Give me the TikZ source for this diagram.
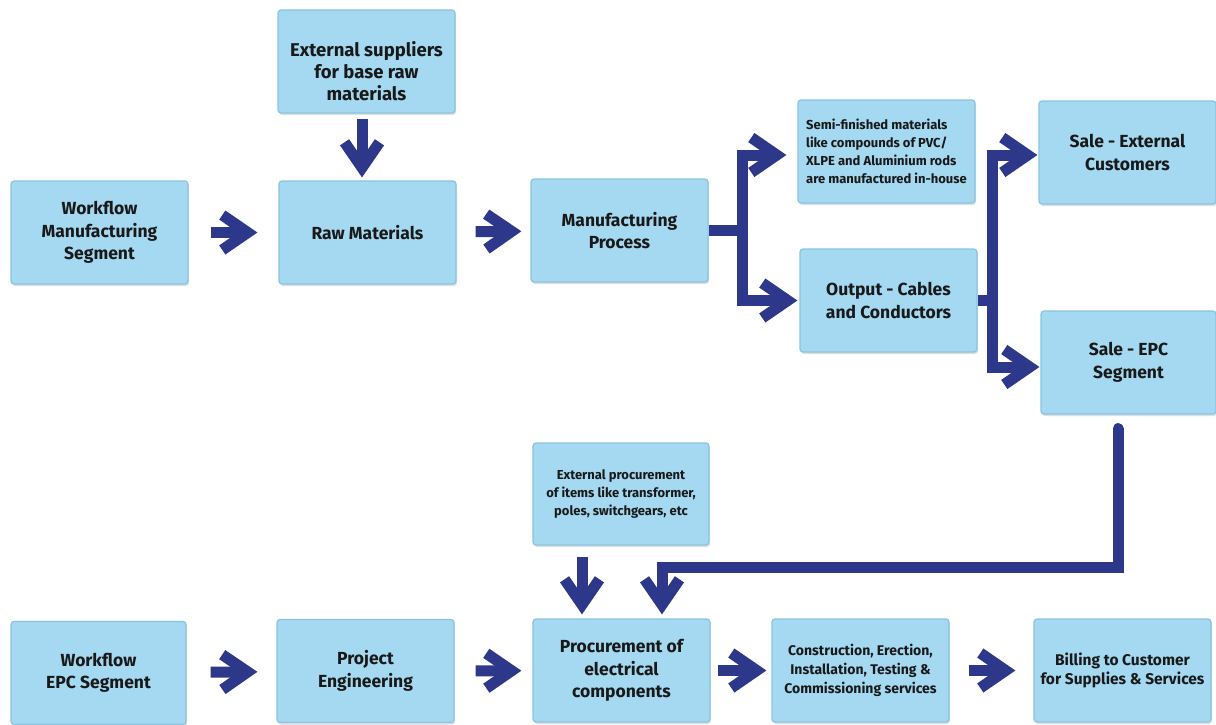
\documentclass[tikz,border=0pt]{standalone}
\usepackage{fontspec}
\setmainfont{Fira Sans}
\usetikzlibrary{shadows,arrows.meta}
\definecolor{arrowblue}{RGB}{45,56,138}
\definecolor{boxfill}{RGB}{164,217,241}
\definecolor{boxedge}{RGB}{136,196,224}
\definecolor{txt}{RGB}{25,25,25}

\pgfdeclarearrow{
  name=Chev,
  parameters={},
  setup code={
    \pgfarrowssettipend{0pt}
    \pgfarrowssetlineend{-19pt}
    \pgfarrowssetvisualbackend{-19pt}
    \pgfarrowssetbackend{-38.2pt}
    \pgfarrowshullpoint{0pt}{0pt}
    \pgfarrowshullpoint{-32pt}{22pt}
    \pgfarrowshullpoint{-38.2pt}{12.9pt}
    \pgfarrowshullpoint{-32pt}{-22pt}
    \pgfarrowshullpoint{-38.2pt}{-12.9pt}
  },
  drawing code={
    \pgfpathmoveto{\pgfqpoint{0pt}{0pt}}
    \pgfpathlineto{\pgfqpoint{-32pt}{22pt}}
    \pgfpathlineto{\pgfqpoint{-38.2pt}{12.9pt}}
    \pgfpathlineto{\pgfqpoint{-19.4pt}{0pt}}
    \pgfpathlineto{\pgfqpoint{-38.2pt}{-12.9pt}}
    \pgfpathlineto{\pgfqpoint{-32pt}{-22pt}}
    \pgfpathclose
    \pgfusepathqfill
  }
}

\tikzset{
  box/.style={rectangle, rounded corners=3pt, fill=boxfill, draw=boxedge,
    line width=1.2pt, minimum width=177pt, minimum height=103pt, inner sep=2pt,
    align=center, text=txt, font=\fontsize{17.5}{22.5}\selectfont\bfseries,
    drop shadow={opacity=0.25, shadow xshift=1pt, shadow yshift=-2pt}},
  smalltxt/.style={font=\fontsize{13}{18}\selectfont\bfseries},
  midtxt/.style={font=\fontsize{14}{19}\selectfont\bfseries},
  billtxt/.style={font=\fontsize{15.5}{19}\selectfont\bfseries},
  bigtxt/.style={font=\fontsize{18.5}{22}\selectfont\bfseries},
  conn/.style={color=arrowblue, line width=11pt, line join=miter, -{Chev}}
}

\begin{document}
\begin{tikzpicture}[x=1pt,y=-1pt]
\useasboundingbox (0,0) rectangle (1216,724);

% top row
\node[box] (wms) at (99.5,232.5) {Workflow\\Manufacturing\\Segment};
\node[box] (raw) at (367.5,232.5) {Raw Materials};
\node[box, bigtxt] (ext) at (366.5,61.5) {\rule{0pt}{35pt}External suppliers\\for base raw\\materials};
\node[box] (mp) at (619.5,230.5) {Manufacturing\\Process};
\node[box, smalltxt, align=left] (semi) at (886.5,151.5) {Semi-finished materials\\like compounds of PVC/\\XLPE and Aluminium rods\\are manufactured in-house};
\node[box] (out) at (888.5,300.5) {Output - Cables\\and Conductors};
\node[box] (sext) at (1127.5,152.5) {Sale - External\\Customers};
\node[box, minimum width=175pt] (sepc) at (1128.5,362.5) {Sale - EPC\\Segment};

% bottom row
\node[box, smalltxt, minimum width=176pt, minimum height=102pt] (extp) at (621,494) {External procurement\\of items like transformer,\\poles, switchgears, etc};
\node[box, minimum width=175pt] (wepc) at (98.5,673) {Workflow\\EPC Segment};
\node[box] (pe) at (365.5,671) {Project\\Engineering};
\node[box] (proc) at (621.5,670.5) {Procurement of\\electrical\\components};
\node[box, midtxt] (cons) at (860.5,670.5) {Construction, Erection,\\Installation, Testing \&\\Commissioning services};
\node[box, billtxt] (bill) at (1122.5,670.5) {Billing to Customer\\for Supplies \& Services};

% connectors top
\draw[conn, shorten <=22pt, shorten >=21pt] (wms) -- (raw);
\draw[conn, shorten <=5pt, shorten >=3pt] ([xshift=-4.5pt]ext.south) -- ([xshift=-5.5pt]raw.north);
\draw[conn, shorten <=19pt, shorten >=9pt] (raw) -- (mp);

\coordinate (b1) at (742,230.5);
\draw[conn, shorten >=11pt] (mp.east) -- (b1) |- ([yshift=-3.5pt]semi.west);
\draw[conn, shorten >=2pt] (b1) |- (out.west);

\coordinate (b2) at (992,300.5);
\draw[conn, shorten >=1pt] (out.east) -- (b2) |- ([yshift=-2.5pt]sext.west);
\draw[conn, shorten >=1pt] (b2) |- ([yshift=-4.5pt]sepc.west);

% EPC feedback
\coordinate (e1) at ([xshift=-10.5pt,yshift=-14pt]sepc.south);
\coordinate (e2) at (662,567);
\draw[conn, line cap=round, shorten >=4pt] (e1) |- (e2) -- (e2 |- proc.north);
\draw[conn, shorten <=11pt, shorten >=4pt] ([xshift=-39pt]extp.south) -- ([xshift=-39.5pt]proc.north);

% connectors bottom
\draw[conn, shorten <=24pt, shorten >=19pt] (wepc) -- (pe);
\draw[conn, shorten <=21pt, shorten >=11pt] (pe) -- (proc);
\draw[conn, shorten <=7pt, shorten >=5pt] (proc) -- (cons);
\draw[conn, shorten <=19pt, shorten >=18pt] (cons) -- (bill);
\end{tikzpicture}
\end{document}
